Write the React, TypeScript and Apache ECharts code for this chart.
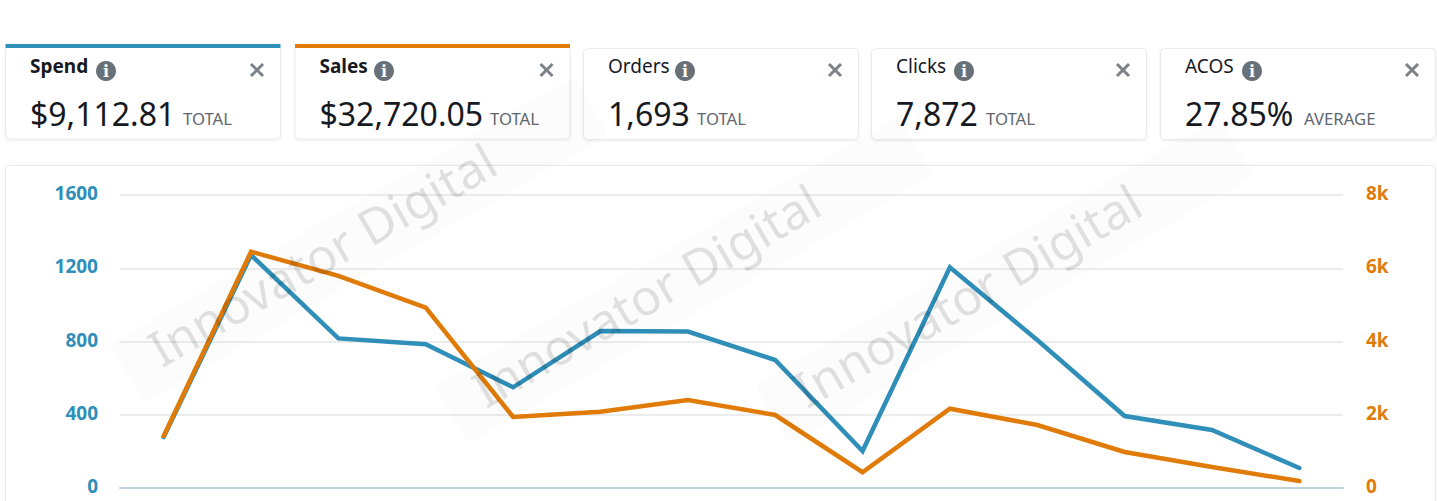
import React, { useEffect, useRef } from "react";
import * as echarts from "echarts";

const categories = ["1", "2", "3", "4", "5", "6", "7", "8", "9", "10", "11", "12", "13", "14"];
const spend = [278, 1272, 817, 785, 550, 857, 854, 699, 202, 1205, 808, 393, 317, 109];
const sales = [1420, 6452, 5790, 4923, 1940, 2083, 2403, 1993, 430, 2165, 1720, 983, 573, 190];

const cardTitles = ["Spend", "Sales", "Orders", "Clicks", "ACOS"];
const cardValues = ["$9,112.81", "$32,720.05", "1,693", "7,872", "27.85%"];
const cardNotes = ["TOTAL", "TOTAL", "TOTAL", "TOTAL", "AVERAGE"];
const watermark = "Innovator Digital";

const BLUE = "#2f8fb9";
const ORANGE = "#e07b07";
const FONT = "'Noto Sans', 'Open Sans', sans-serif";

const cardLeft = [5.5, 295, 583.5, 871.5, 1160.5];
const iconOffset = [76, 64.5, 77, 68, 67];
const noteOffset = [153, 170.5, 89, 90, 119];

function card(i: number) {
  const x = cardLeft[i];
  const active = i < 2 ? (i === 0 ? BLUE : ORANGE) : null;
  const out: any[] = [
    {
      type: "rect", z: -2, silent: true,
      shape: { x, y: active ? 45 : 48.5, width: 275, height: active ? 94 : 91, r: 4 },
      style: { fill: "#fff", stroke: "#e9ebeb", lineWidth: 1, shadowBlur: 2, shadowColor: "rgba(0,0,0,0.08)", shadowOffsetY: 1 },
    },
  ];
  if (active) {
    out.push({ type: "rect", z: -1, silent: true, shape: { x, y: 44, width: 275, height: 4 }, style: { fill: active } });
  }
  const tx = x + 24.5;
  out.push({ type: "text", z: 1, silent: true, x: tx, y: 66, style: { text: cardTitles[i], fontFamily: FONT, fontSize: 19, fontWeight: active ? 700 : 400, fill: "#16191f", verticalAlign: "middle", align: "left" } });
  const ix = tx + iconOffset[i];
  out.push({ type: "circle", z: 1, silent: true, shape: { cx: ix, cy: 71, r: 10 }, style: { fill: "#687078" } });
  out.push({ type: "text", z: 2, silent: true, x: ix, y: 71, style: { text: "i", fontFamily: "'DejaVu Serif', serif", fontWeight: 700, fontSize: 16, fill: "#fff", align: "center", verticalAlign: "middle" } });
  const cx = x + 251.5;
  const cy = 70;
  for (const d of [1, -1]) {
    out.push({ type: "line", z: 1, silent: true, shape: { x1: cx - 6, y1: cy - 6 * d, x2: cx + 6, y2: cy + 6 * d }, style: { stroke: "#7d8288", lineWidth: 3 } });
  }
  out.push({ type: "text", z: 1, silent: true, x: tx, y: 113, style: { text: cardValues[i], fontFamily: FONT, fontSize: 32, fill: "#16191f", verticalAlign: "middle", align: "left" } });
  out.push({ type: "text", z: 1, silent: true, x: tx + noteOffset[i], y: 118, style: { text: cardNotes[i], fontFamily: FONT, fontSize: 16.7, fill: "#5f6770", verticalAlign: "middle", align: "left" } });
  return out;
}

function mark(cx: number, cy: number) {
  return {
    type: "group", x: cx, y: cy, rotation: (30 * Math.PI) / 180, silent: true, z: 50,
    children: [
      { type: "rect", z: 50, silent: true, shape: { x: -229, y: -28, width: 537, height: 68, r: 6 }, style: { fill: "rgba(0,0,0,0.013)" } },
      { type: "text", z: 51, silent: true, x: 0, y: 0, style: { text: watermark, fontFamily: FONT, fontSize: 49.5, fontWeight: 400, fill: "rgba(0,0,0,0.115)", align: "center", verticalAlign: "middle" } },
    ],
  };
}

export default function App() {
  const ref = useRef<HTMLDivElement>(null);
  useEffect(() => {
    document.body.style.margin = "0";
    const chart = echarts.init(ref.current!, null, { renderer: "svg" });
    const axisBase = { type: "value" as const, axisLine: { show: false }, axisTick: { show: false } };
    chart.setOption({
      animation: false,
      backgroundColor: "#fff",
      grid: { left: 120, right: 94, top: 195, bottom: 13 },
      xAxis: {
        type: "category", data: categories,
        axisLine: { show: true, lineStyle: { color: "#c3d3dc", width: 2 } },
        axisTick: { show: false }, axisLabel: { show: false }, splitLine: { show: false },
      },
      yAxis: [
        {
          ...axisBase, min: 0, max: 1600, interval: 400, position: "left",
          axisLabel: { color: BLUE, fontFamily: FONT, fontSize: 19, fontWeight: 700, margin: 22, verticalAlign: "bottom", lineHeight: 4, formatter: (v: number) => String(v) },
          splitLine: { show: true, lineStyle: { color: "#e9eded", width: 2 } },
        },
        {
          ...axisBase, min: 0, max: 8000, interval: 2000, position: "right",
          axisLabel: { color: ORANGE, fontFamily: FONT, fontSize: 19, fontWeight: 700, margin: 23, verticalAlign: "bottom", lineHeight: 4, formatter: (v: number) => (v === 0 ? "0" : v / 1000 + "k") },
          splitLine: { show: false },
        },
      ],
      series: [
        { name: "Spend", type: "line", yAxisIndex: 0, data: spend, showSymbol: false, symbol: "none", lineStyle: { color: BLUE, width: 4.5, join: "miter", cap: "round" }, itemStyle: { color: BLUE } },
        { name: "Sales", type: "line", yAxisIndex: 1, data: sales, showSymbol: false, symbol: "none", lineStyle: { color: ORANGE, width: 4.5, join: "miter", cap: "round" }, itemStyle: { color: ORANGE } },
      ],
      graphic: [
        { type: "rect", z: -3, silent: true, shape: { x: 5.5, y: 165.5, width: 1430, height: 345, r: 4 }, style: { fill: "#fff", stroke: "#e9ebeb", lineWidth: 1, shadowBlur: 2, shadowColor: "rgba(0,0,0,0.06)" } },
        ...[0, 1, 2, 3, 4].flatMap(card),
        mark(322, 254),
        mark(646, 295),
        mark(967, 295),
      ],
    });
    return () => chart.dispose();
  }, []);
  return <div ref={ref} style={{ position: "absolute", left: 0, top: 0, width: 1437, height: 501 }} />;
}
